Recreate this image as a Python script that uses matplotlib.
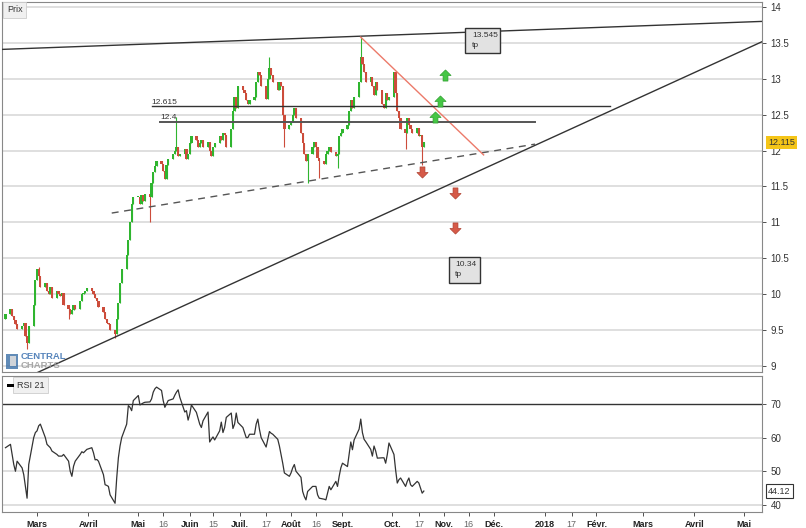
import numpy as np
import pandas as pd
import matplotlib
matplotlib.use("Agg")
import matplotlib.pyplot as plt
import matplotlib.dates as mdates
from matplotlib.path import Path
from matplotlib.patches import Rectangle
import matplotlib.transforms as mtransforms

plt.rcParams['font.family'] = ['Liberation Sans', 'DejaVu Sans']

# daily closes, Feb 10 2017 -> Oct 20 2017 (business days)
closes = [
    # Feb
    9.72, 9.8, 9.7, 9.64, 9.58, 9.52, 9.55, 9.6, 9.42, 9.32, 9.55, 9.85, 10.2,
    # Mar
    10.35, 10.25, 10.1, 10.15, 10.05, 10.0, 10.1, 9.95, 10.05, 10.0, 9.98, 10.02,
    9.85, 9.8, 9.72, 9.78, 9.85, 9.8, 9.9, 10.0, 10.02, 10.05, 10.08,
    # Apr
    10.05, 10.0, 9.95, 9.9, 9.82, 9.75, 9.65, 9.6, 9.58, 9.5, 9.45, 9.65, 9.88,
    10.15, 10.35, 10.55, 10.75, 11.0, 11.25, 11.35,
    # May
    11.35, 11.25, 11.38, 11.3, 11.4, 11.35, 11.55, 11.7, 11.78, 11.85, 11.82, 11.72,
    11.6, 11.8, 11.88, 11.95, 12.0, 12.05, 11.92, 11.95, 12.02, 11.88, 11.95,
    # Jun
    12.1, 12.2, 12.15, 12.05, 12.1, 12.15, 12.05, 12.12, 12.0, 11.92, 12.05, 12.1,
    12.2, 12.15, 12.25, 12.22, 12.05, 12.3, 12.55, 12.75, 12.6, 12.9,
    # Jul
    12.85, 12.8, 12.7, 12.65, 12.7, 12.75, 12.95, 13.1, 13.05, 12.9, 12.72, 13.0,
    13.15, 13.05, 12.95, 12.85, 12.95, 12.9, 12.5, 12.3, 12.35,
    # Aug
    12.4, 12.5, 12.6, 12.45, 12.25, 12.1, 11.95, 11.85, 11.95, 12.05, 12.12, 12.05,
    11.9, 11.85, 11.82, 11.95, 12.0, 12.05, 11.98, 11.92, 11.95, 12.2, 12.25,
    # Sep
    12.3, 12.35, 12.55, 12.7, 12.6, 12.75, 12.95, 13.3, 13.2, 13.1, 12.95, 13.02,
    12.9, 12.78, 12.95, 12.85, 12.65, 12.6, 12.8, 12.7, 12.75,
    # Oct
    13.1, 12.8, 12.55, 12.45, 12.3, 12.25, 12.45, 12.35, 12.3, 12.25, 12.32, 12.2,
    12.22, 12.05, 12.115,
]
first_open = 9.65

wick_high_dates = ['2017-03-02', '2017-05-24', '2017-07-19', '2017-09-12']
wick_high_values = [10.38, 12.47, 13.3, 13.58]
wick_low_dates = ['2017-02-23', '2017-03-20', '2017-04-17', '2017-05-08', '2017-07-28',
                  '2017-08-11', '2017-08-18', '2017-08-29', '2017-10-09', '2017-10-19']
wick_low_values = [9.23, 9.65, 9.39, 11.0, 12.05, 11.55, 11.62, 11.76, 12.02, 11.8]

rsi = [
    57, 58, 55, 52, 50, 53, 51, 49, 45.5, 42, 52, 60, 61.5,
    62, 63.5, 64, 60, 58, 57.5, 57, 56, 55, 54.5, 54.5, 54.5, 55, 53, 50, 48.5,
    51.5, 53, 55, 55.8, 55.5, 56, 56.5,
    57, 55.5, 53.4, 53.5, 53, 49, 46, 45.8, 45.5, 43, 40.5, 48, 54, 57.5, 60, 64,
    69.5, 69, 68, 71,
    72.5, 69.7, 70, 70.3, 70.5, 70.6, 71.5, 73.5, 74.5, 75, 74, 71, 69, 70, 71,
    71.5, 72.6, 73.5, 74.2, 72, 67.6, 68, 65.2,
    67, 69.7, 67.5, 65.7, 64, 63, 65, 67.6, 58.7, 59.5, 60.2, 59.3, 62, 64.6, 61.5,
    63, 66, 67.3, 62.7, 64, 67.3, 64.5,
    63, 61.5, 60, 60, 61, 61, 64, 65.5, 62.4, 60, 57.2, 59.5, 61.8, 61.3, 61, 59.5,
    57.5, 55, 52.4, 49.5, 48.5,
    49.5, 51, 52, 50, 48.2, 44, 42.5, 41.5, 44, 45.5, 45.5, 45.5, 43, 42, 41.7,
    41.5, 43.5, 45.5, 44.5, 47, 45.5, 48.5, 51,
    52.4, 51.4, 55, 58.7, 56.4, 59.3, 62.5, 65.5, 61.5, 59.5, 58.8, 56.5, 54.5,
    57.5, 56, 53.9, 54, 54, 52.4, 55, 58.4,
    55, 50.4, 46.5, 47.5, 48, 45.5, 47, 48, 46, 45.5, 47, 46.5, 45, 43.5, 44.12,
]

tick_dates = ['2017-03-01', '2017-04-01', '2017-05-01', '2017-05-16', '2017-06-01',
              '2017-06-15', '2017-07-01', '2017-07-17', '2017-08-01', '2017-08-16',
              '2017-09-01', '2017-10-01', '2017-10-17', '2017-11-01', '2017-11-16',
              '2017-12-01', '2018-01-01', '2018-01-17', '2018-02-01', '2018-03-01',
              '2018-04-01', '2018-05-01']
tick_labels = ['Mars', 'Avril', 'Mai', '16', 'Juin', '15', 'Juil.', '17', 'Août', '16',
               'Sept.', 'Oct.', '17', 'Nov.', '16', 'Déc.', '2018', '17', 'Févr.',
               'Mars', 'Avril', 'Mai']

# drawn levels
resistance_line = (['2017-02-08', '2018-05-12'], [13.41, 13.80])
support_line = (['2017-02-18', '2018-05-12'], [8.79, 13.52])
dashed_line = (['2017-04-15', '2017-12-26'], [11.13, 12.09])
red_line = (['2017-09-12', '2017-11-25'], [13.58, 11.94])
level_hi = (['2017-05-09', '2018-02-09'], 12.615)
level_lo = (['2017-05-14', '2017-12-26'], 12.4)
up_arrows = (['2017-11-02', '2017-10-30', '2017-10-27'], [13.05, 12.69, 12.47])
down_arrows = (['2017-10-19', '2017-11-08', '2017-11-08'], [11.70, 11.41, 10.92])
targets = [('13.545', '2017-11-14', '2017-12-05', 13.36, 13.71),
           ('10.34', '2017-11-04', '2017-11-23', 10.16, 10.52)]

GREEN = '#2fb52f'
RED = '#cc4c3b'

fig = plt.figure(figsize=(8.06, 5.28), dpi=100)
ax = fig.add_axes([2 / 806, 1 - 372 / 528, 760 / 806, 370 / 528])
axr = fig.add_axes([2 / 806, 1 - 512 / 528, 760 / 806, 136 / 528], sharex=ax)

dates = pd.bdate_range('2017-02-10', '2017-10-20')
x = mdates.date2num(dates)
c = np.array(closes)
o = np.r_[first_open, c[:-1]]
hi = np.maximum(o, c)
lo = np.minimum(o, c)
for d, v in zip(wick_high_dates, wick_high_values):
    i = dates.get_loc(pd.Timestamp(d))
    hi[i] = max(hi[i], v)
for d, v in zip(wick_low_dates, wick_low_values):
    i = dates.get_loc(pd.Timestamp(d))
    lo[i] = min(lo[i], v)
cols = [GREEN if cc >= oo else RED for oo, cc in zip(o, c)]
ax.vlines(x, lo, hi, colors=cols, lw=0.8, zorder=3)
ax.bar(x, np.maximum(np.abs(c - o), 0.015), bottom=np.minimum(o, c), width=1.35,
       color=cols, linewidth=0, zorder=4)

x0 = mdates.date2num(pd.Timestamp('2017-03-01')) - 21.1
x1 = mdates.date2num(pd.Timestamp('2017-03-01')) + 436.7
ax.set_xlim(x0, x1)
ax.set_ylim(8.916, 14.07)
axr.set_ylim(37.9, 78.3)


def dnum(lst):
    return mdates.date2num(pd.to_datetime(lst))


for yv in np.arange(9, 14.01, 0.5):
    ax.axhline(yv, color='#dcdcdc', lw=1.3, zorder=0)
ax.plot(dnum(resistance_line[0]), resistance_line[1], color='#333333', lw=1, zorder=5)
ax.plot(dnum(support_line[0]), support_line[1], color='#333333', lw=1, zorder=5)
ax.plot(dnum(dashed_line[0]), dashed_line[1], color='#555555', lw=1, dashes=(5, 4), zorder=5)
ax.plot(dnum(red_line[0]), red_line[1], color='#ec7a6a', lw=1, zorder=5)
ax.plot(dnum(level_hi[0]), [level_hi[1]] * 2, color='#333333', lw=1, zorder=5)
ax.plot(dnum(level_lo[0]), [level_lo[1]] * 2, color='#555555', lw=1.4, zorder=5)
ax.text(dnum(level_hi[0])[0], level_hi[1] + 0.04, '12.615', fontsize=6, color='#333333')
ax.text(dnum(level_lo[0])[0], level_lo[1] + 0.04, '12.4', fontsize=6, color='#333333')

arrow = Path([(-0.22, -0.5), (0.22, -0.5), (0.22, 0.0), (0.5, 0.0), (0.0, 0.5),
              (-0.5, 0.0), (-0.22, 0.0), (-0.22, -0.5)], closed=True)
arrow_dn = Path([(px, -py) for px, py in arrow.vertices], closed=True)
ax.plot(dnum(up_arrows[0]), up_arrows[1], ls='none', marker=arrow, ms=8,
        mfc='#45c645', mec='#2f9f2f', mew=0.5, zorder=6)
ax.plot(dnum(down_arrows[0]), down_arrows[1], ls='none', marker=arrow_dn, ms=8,
        mfc='#d65a48', mec='#b04030', mew=0.5, zorder=6)

for label, d0, d1, p0, p1 in targets:
    a, b = dnum([d0, d1])
    ax.add_patch(Rectangle((a, p0), b - a, p1 - p0, facecolor='#e2e2e2',
                           edgecolor='#333333', lw=1, zorder=6))
    ax.text(a + 4, p1 - 0.06, label, fontsize=6, va='top', color='#333333', zorder=7)
    ax.text(a + 4, p1 - 0.2, 'tp', fontsize=6, va='top', color='#333333', zorder=7)

# RSI panel
for yv in [40, 50, 60]:
    axr.axhline(yv, color='#dcdcdc', lw=1.3, zorder=0)
axr.axhline(70, color='#333333', lw=1, zorder=1)
axr.plot(x, rsi, color='#333333', lw=0.9, zorder=3)

for a_ in (ax, axr):
    a_.yaxis.tick_right()
    a_.tick_params(axis='y', labelsize=7, colors='#333333', length=3, width=0.6, pad=3)
    for s in a_.spines.values():
        s.set_color('#888888')
        s.set_linewidth(0.8)
ax.set_yticks(np.arange(9, 14.01, 0.5))
ax.set_yticklabels(['9', '9.5', '10', '10.5', '11', '11.5', '12', '12.5', '13', '13.5', '14'])
axr.set_yticks([40, 50, 60, 70])
ax.tick_params(axis='x', bottom=False, labelbottom=False)
axr.set_xticks(dnum(tick_dates))
axr.set_xticklabels(tick_labels)
axr.tick_params(axis='x', labelsize=6.5, length=3, width=0.6, colors='#333333', pad=3)
for t in axr.get_xticklabels():
    if t.get_text().isdigit() and t.get_text() != '2018':
        t.set_color('#666666')
    else:
        t.set_fontweight('bold')
        t.set_color('#222222')

# last values on the right axis
tr = mtransforms.blended_transform_factory(ax.transAxes, ax.transData)
ax.text(1.008, 12.115, '12.115', transform=tr, fontsize=6.5, va='center', color='#333333',
        bbox=dict(boxstyle='square,pad=0.25', facecolor='#f5c518', edgecolor='none'))
trr = mtransforms.blended_transform_factory(axr.transAxes, axr.transData)
axr.text(1.008, 44.12, '44.12', transform=trr, fontsize=6.5, va='center', color='#333333',
         bbox=dict(boxstyle='square,pad=0.25', facecolor='white', edgecolor='#333333', lw=0.8))

# panel labels
fig.text(7 / 806, 1 - 10 / 528, 'Prix', fontsize=6.5, va='center', color='#333333',
         bbox=dict(boxstyle='square,pad=0.4', facecolor='#f0f0f0', edgecolor='#cccccc', lw=0.6))
fig.text(17 / 806, 1 - 385 / 528, 'RSI 21', fontsize=6.5, va='center', color='#333333',
         bbox=dict(boxstyle='square,pad=0.4', facecolor='#f0f0f0', edgecolor='#cccccc', lw=0.6))
fig.patches.append(Rectangle((7 / 806, 1 - 387 / 528), 7 / 806, 3 / 528,
                             transform=fig.transFigure, facecolor='black', zorder=10))

# logo
fig.patches.append(Rectangle((6 / 806, 1 - 369 / 528), 12 / 806, 15 / 528,
                             transform=fig.transFigure, facecolor='#3a6ea5', alpha=0.8))
fig.patches.append(Rectangle((10 / 806, 1 - 366 / 528), 6 / 806, 10 / 528,
                             transform=fig.transFigure, facecolor='#dddddd', alpha=0.9))
fig.text(21 / 806, 1 - 356.5 / 528, 'CENTRAL', fontsize=6.8, fontweight='bold',
         color='#3a70b0', va='center', alpha=0.85)
fig.text(21 / 806, 1 - 365.5 / 528, 'CHARTS', fontsize=6.8, fontweight='bold',
         color='#999999', va='center', alpha=0.85)

fig.savefig('out.png', dpi=100)
plt.close(fig)
